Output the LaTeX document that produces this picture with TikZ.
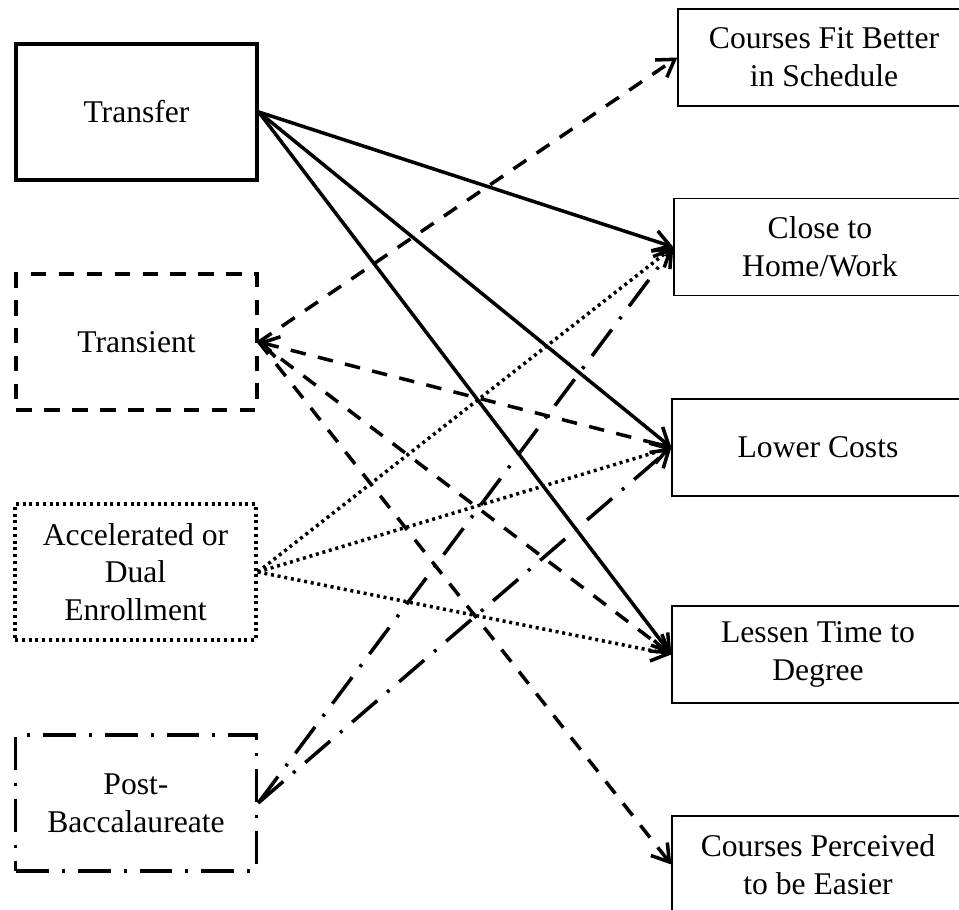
\documentclass[tikz,border=0pt]{standalone}
\usepackage{fontspec}
\setmainfont{Liberation Serif}
\usepackage{xcolor}
\usepackage{tikz}
\usetikzlibrary{arrows.meta,positioning}
\definecolor{bg}{HTML}{FFFFFF}
\definecolor{ink}{HTML}{000000}
\tikzset{
  lab/.style={text=ink, font=\fontsize{18}{21.5}\selectfont, align=center},
  inbox/.style={lab, draw=ink, line width=2pt, minimum width=4.82cm, minimum height=2.72cm, inner sep=0pt},
  outbox/.style={lab, draw=ink, line width=0.8pt, minimum width=5.84cm, minimum height=1.94cm, inner sep=0pt},
  longdash/.style={dash pattern=on 0.31cm off 0.25cm},
  shortdot/.style={dash pattern=on 0.06cm off 0.075cm},
  dashdotline/.style={dash pattern=on 0.66cm off 0.26cm on 0.06cm off 0.26cm},
  tip/.style={Straight Barb[length=0.33cm, width=0.42cm]},
  link/.style={draw=ink, line width=2pt, -{Straight Barb[length=0.33cm, width=0.42cm]}},
}
\begin{document}
\begin{tikzpicture}[x=0.02cm, y=-0.02cm]
\useasboundingbox (0,0) rectangle (959,909);
\fill[bg] (0,0) rectangle (959,909);
\clip (0,0) rectangle (959,909);

\node[inbox] (transfer) at (136.5,112) {Transfer};
\node[inbox, longdash] (transient) at (136.5,342) {Transient};
\node[inbox, shortdot] (accel) at (135.5,572) {Accelerated or\\Dual\\Enrollment};
\node[inbox, dashdotline] (postbac) at (136,803) {Post-\\Baccalaureate};

\node[outbox] (fit) at (824,57.5) {Courses Fit Better\\in Schedule};
\node[outbox] (close) at (820,247) {Close to\\Home/Work};
\node[outbox] (costs) at (818,447.5) {Lower Costs};
\node[outbox] (lessen) at (818,654.5) {Lessen Time to\\Degree};
\node[outbox] (easier) at (818,864.5) {Courses Perceived\\to be Easier};

\draw[link] (transfer.east) -- (close.west);
\draw[link] (transfer.east) -- (costs.west);
\draw[link] (transfer.east) -- (lessen.west);

\draw[link, longdash] (transient.east) -- (fit.west);
\draw[link, longdash, {Straight Barb[length=0.33cm, width=0.42cm]}-] (transient.east) -- (costs.west);
\draw[link, longdash] (transient.east) -- (lessen.west);
\draw[link, longdash] (transient.east) -- (easier.west);

\draw[link, shortdot] (accel.east) -- (close.west);
\draw[link, shortdot] (accel.east) -- (costs.west);
\draw[link, shortdot] (accel.east) -- (lessen.west);

\draw[link, dashdotline] (postbac.east) -- (close.west);
\draw[link, dashdotline] (postbac.east) -- (costs.west);
\end{tikzpicture}
\end{document}
